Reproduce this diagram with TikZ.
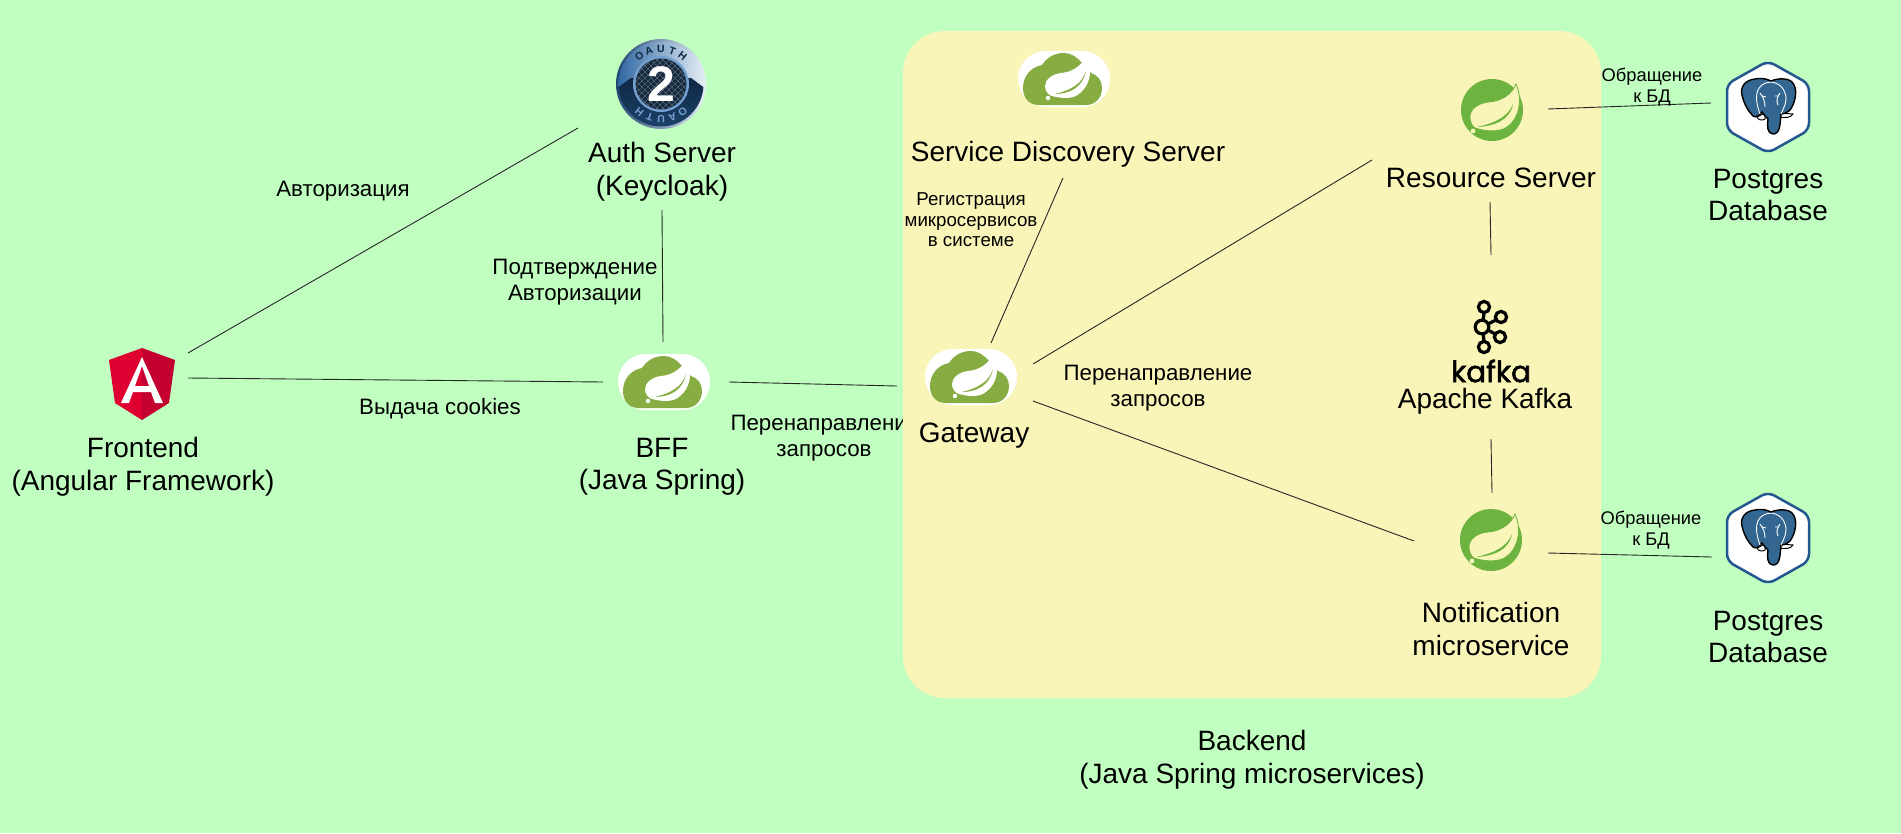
\documentclass[tikz,border=0pt]{standalone}
\usepackage{fontspec}
\setmainfont{Liberation Sans}
\newfontfamily\wordfont[FakeBold=1.8]{Poppins}
\usetikzlibrary{calc}
\definecolor{bggreen}{RGB}{193,255,193}
\definecolor{panelyellow}{RGB}{249,245,184}
\definecolor{cloudgreen}{RGB}{135,173,66}
\definecolor{leafgreen}{RGB}{109,179,63}
\definecolor{pgblue}{RGB}{51,103,145}
\definecolor{hexblue}{RGB}{35,88,143}
\definecolor{ngleft}{RGB}{221,0,49}
\definecolor{ngright}{RGB}{195,0,47}
\definecolor{oauthdark}{RGB}{15,40,68}
\definecolor{oauthmid}{RGB}{28,66,106}
\definecolor{oauthedge}{RGB}{45,100,160}
\definecolor{oauthpale}{RGB}{232,240,248}
\definecolor{oauthcore}{RGB}{24,42,62}
\definecolor{oauthring}{RGB}{115,160,208}
\definecolor{oauthhatch}{RGB}{125,145,165}
\def\drawlink{\draw[color=black!85, line width=0.9pt]}
\def\biglabel{\node[align=center, font=\fontsize{28}{32.5}\selectfont]}
\def\midlabel{\node[align=center, font=\fontsize{22.3}{26.5}\selectfont]}
\def\smalllabel{\node[align=center, font=\fontsize{18.7}{20.5}\selectfont]}
\def\dblabel{\node[align=center, font=\fontsize{18.3}{21.5}\selectfont]}
\tikzset{
  pics/springcloud/.style={code={
    \fill[white, rounded corners=28] (-46,-28) rectangle (46,28);
    \fill[cloudgreen] (-25,26) .. controls (-36,26) and (-41,18) .. (-41,9)
      .. controls (-41,-3) and (-33,-12) .. (-22,-14)
      .. controls (-16,-23) and (-8,-26) .. (0,-26)
      .. controls (7,-26) and (13,-22) .. (18,-16) -- (27,-6)
      .. controls (34,-4) and (38,2) .. (38,9)
      .. controls (38,19) and (31,26) .. (22,26) -- cycle;
    \fill[white] (23,-23) .. controls (16,-12) and (8,-7) .. (-3,-6)
      .. controls (-12,-5) and (-19,1) .. (-19,7)
      .. controls (-19,12) and (-16,16) .. (-12,17)
      .. controls (0,20) and (10,20) .. (16,14)
      .. controls (26,6) and (29,-8) .. cycle;
    \fill[cloudgreen] (22,-8) .. controls (18,5) and (7,11) .. (-9,15)
      .. controls (6,15) and (19,8) .. (22,-8);
    \fill[white] (-16,19) circle (2.2);
  }},
  pics/springleaf/.style={code={
    \fill[leafgreen] (0,0) circle (31);
    \filldraw[fill=panelyellow, draw=leafgreen, line width=0.8pt] (24,-26) .. controls (20,-16) and (10,-9) .. (-3,-8)
      .. controls (-14,-7) and (-22,-1) .. (-22,7)
      .. controls (-22,12) and (-20,16) .. (-17,18)
      .. controls (-5,22) and (8,22) .. (15,17)
      .. controls (27,9) and (31,-10) .. cycle;
    \fill[leafgreen] (21,-6) .. controls (16,7) and (3,13) .. (-15,17)
      .. controls (3,16) and (18,10) .. (21,-6);
    \fill[panelyellow] (-19,21) circle (2.4);
  }},
  pics/angularlogo/.style={code={
    \fill[ngleft] (0,-36) -- (-33,-24) -- (-27,19) -- (0,36) -- cycle;
    \fill[ngright] (0,-36) -- (33,-24) -- (27,19) -- (0,36) -- cycle;
    \fill[white, even odd rule] (0,-27) -- (-21,19) -- (-13,19) -- (-9,8) -- (9,8) -- (13,19) -- (21,19) -- cycle
      (0,-18) -- (-7,2) -- (7,2) -- cycle;
  }},
  pics/oauthlogo/.style={code={
    \shade[left color=oauthedge!70!black, right color=oauthpale] (0,0) circle (45);
    \begin{scope}
      \clip (0,0) circle (42.5);
      \shade[left color=oauthedge, right color=oauthpale] (-45,-45) rectangle (45,8);
      \shade[top color=oauthdark, bottom color=oauthmid] (-45,5) -- (-30,-6) -- (30,-6) -- (45,5) -- (45,44) -- (-45,44) -- cycle;
    \end{scope}
    \fill[oauthring] (0,0) circle (28);
    \fill[oauthcore] (0,0) circle (25.5);
    \begin{scope}
      \clip (0,0) circle (25.5);
      \foreach \h in {-40,-34,...,40} {
        \draw[oauthhatch, line width=0.3pt] (\h-30,-30) -- (\h+30,30);
        \draw[oauthhatch, line width=0.3pt] (\h-30,30) -- (\h+30,-30);
      }
    \end{scope}
    \foreach \l/\a in {O/128,A/110,U/90,T/71,H/52} {
      \node[font=\bfseries\fontsize{10.5}{10.5}\selectfont, text=oauthdark, inner sep=0pt, rotate=\a-90] (top\l) at (-\a:35) {\l};
    }
    \foreach \l/\a in {O/308,A/289,U/270,T/251,H/232} {
      \node[font=\bfseries\fontsize{10.5}{10.5}\selectfont, text=oauthring, inner sep=0pt, rotate=\a-90] (bot\l) at (-\a:35) {\l};
    }
    \node[font=\bfseries\fontsize{50}{50}\selectfont, text=white, inner sep=0pt] (two) at (0,0) {2};
  }},
  pics/kafkalogo/.style={code={
    \draw[line width=3.2pt] (2,-14) -- (1,-6) (2,14) -- (1,6) (14,-7) -- (6,-3) (13,7) -- (6,3);
    \draw[line width=3.2pt] (0,0) circle (6.8);
    \draw[line width=3.2pt] (2,-20) circle (5.6);
    \draw[line width=3.2pt] (2,20) circle (5.6);
    \draw[line width=3.2pt] (19,-10) circle (5.6);
    \draw[line width=3.2pt] (18,10) circle (5.6);
  }},
  pics/postgreslogo/.style={code={
    \filldraw[fill=white, draw=hexblue, line width=2.5pt, rounded corners=7] (0,-46) -- (41,-23) -- (41,23) -- (0,46) -- (-41,23) -- (-41,-23) -- cycle;
    % tusks under the ears
    \filldraw[fill=white, draw=black, line width=1pt] (-11,10) -- (-3,6) -- (-3,12) .. controls (-6,14) and (-10,13) .. (-11,10);
    \filldraw[fill=white, draw=black, line width=1pt] (12,6) -- (25,7) .. controls (23,11) and (16,11) .. (12,10) -- cycle;
    \filldraw[fill=pgblue, draw=black, line width=1.4pt] (3,-26) .. controls (-3,-29) and (-8,-29) .. (-13,-28)
      .. controls (-23,-27) and (-28,-20) .. (-26,-12)
      .. controls (-24,-3) and (-20,4) .. (-15,9)
      .. controls (-12,11) and (-9,9) .. (-6,5)
      .. controls (-4,8) and (-2,10) .. (0,12)
      .. controls (-1,18) and (-1,27) .. (5,27)
      .. controls (12,27) and (12,18) .. (13,7)
      .. controls (17,7) and (20,5) .. (22,3)
      .. controls (28,-5) and (30,-19) .. (24,-25)
      .. controls (20,-29) and (10,-29) .. (3,-26) -- cycle;
    \draw[white, line width=0.9pt] (-8,7) .. controls (-12,-4) and (-14,-16) .. (-6,-22)
      .. controls (2,-28) and (14,-24) .. (17,-14)
      .. controls (20,-6) and (16,0) .. (13,7);
    \draw[white, line width=0.9pt] (-8,-14) .. controls (-5,-10) and (-3,-6) .. (-3,0);
    \draw[white, line width=0.9pt] (12,-14) .. controls (9,-10) and (8,-6) .. (10,-2);
    \draw[white, line width=0.9pt] (-6,-11) -- (-2,-10) (7,-11) -- (11,-11);
  }}
}
\begin{document}
\begin{tikzpicture}[x=1pt,y=-1pt]
\useasboundingbox (0,0) rectangle (1901,833);
\fill[bggreen] (0,0) rectangle (1901,833);

% logo centres
\coordinate (auth) at (661,84);
\coordinate (front) at (142,384);
\coordinate (bff) at (664,382);
\coordinate (gateway) at (971,377);
\coordinate (discovery) at (1064,79);
\coordinate (resource) at (1492,110);
\coordinate (notify) at (1491,540);
\coordinate (kafka) at (1482,327);
\coordinate (dbtop) at (1768,107);
\coordinate (dbbot) at (1768,538);

% this one runs under the panel
\midlabel[anchor=west] (bff_gw_label) at (727,425) {Перенаправлени};

% ---------- Backend panel
\fill[panelyellow, rounded corners=42] (903,31) rectangle (1601,698);

% ---------- logos
\pic (authlogo) at (auth) {oauthlogo};
\pic (frontlogo) at (front) {angularlogo};
\pic (bfflogo) at (bff) {springcloud};
\pic (gwlogo) at (gateway) {springcloud};
\pic (disclogo) at (discovery) {springcloud};
\pic (reslogo) at (resource) {springleaf};
\pic (notlogo) at (notify) {springleaf};
\pic (kafkamark) at (kafka) {kafkalogo};
\pic (dbtoplogo) at (dbtop) {postgreslogo};
\pic (dbbotlogo) at (dbbot) {postgreslogo};
\node[font=\wordfont\fontsize{29.5}{29.5}\selectfont, inner sep=0pt] (kafkaword) at (1491,371) {kafka};

% ---------- free ends of the links
\coordinate (front_up) at ($ (front) + (46,-31) $);
\coordinate (front_right) at ($ (front) + (46,-6) $);
\coordinate (auth_left) at ($ (auth) + (-83,44) $);
\coordinate (auth_down) at ($ (auth) + (1,126) $);
\coordinate (bff_up) at ($ (bff) + (-1,-40) $);
\coordinate (bff_left) at ($ (bff) + (-61,0) $);
\coordinate (bff_right) at ($ (bff) + (65,0) $);
\coordinate (gw_left) at ($ (gateway) + (-74,9) $);
\coordinate (gw_up) at ($ (gateway) + (20,-34) $);
\coordinate (gw_upright) at ($ (gateway) + (62,-13) $);
\coordinate (gw_downright) at ($ (gateway) + (62,24) $);
\coordinate (disc_down) at ($ (discovery) + (-1,99) $);
\coordinate (res_left) at ($ (resource) + (-120,50) $);
\coordinate (res_down) at ($ (resource) + (-2,92) $);
\coordinate (res_right) at ($ (resource) + (56,-1) $);
\coordinate (kafka_up) at ($ (kafka) + (9,-72) $);
\coordinate (kafka_down) at ($ (kafka) + (9,112) $);
\coordinate (not_up) at ($ (notify) + (1,-47) $);
\coordinate (not_left) at ($ (notify) + (-77,1) $);
\coordinate (not_right) at ($ (notify) + (57,13) $);
\coordinate (dbtop_left) at ($ (dbtop) + (-57,-4) $);
\coordinate (dbbot_left) at ($ (dbbot) + (-56,19) $);

% ---------- links
\drawlink (front_up) to (auth_left);
\drawlink (front_right) to (bff_left);
\drawlink (auth_down) to (bff_up);
\drawlink (bff_right) to (gw_left);
\drawlink (gw_up) to (disc_down);
\drawlink (gw_upright) to (res_left);
\drawlink (gw_downright) to (not_left);
\drawlink (res_down) to (kafka_up);
\drawlink (kafka_down) to (not_up);
\drawlink (res_right) to (dbtop_left);
\drawlink (not_right) to (dbbot_left);

% ---------- texts
\biglabel (auth_label) at (662,172) {Auth Server\\(Keycloak)};
\biglabel (front_label) at (143,467) {Frontend\\(Angular Framework)};
\biglabel (bff_label) at (662,467) {BFF\\(Java Spring)};
\biglabel (gw_label) at (974,436) {Gateway};
\biglabel (disc_label) at (1068,154) {Service Discovery Server};
\biglabel (res_label) at (1491,178) {Resource Server};
\biglabel (kafka_label) at (1485,401) {Apache Kafka};
\biglabel (not_label) at (1491,629) {Notification\\microservice};
\biglabel (dbtop_label) at (1768,195) {Postgres\\Database};
\biglabel (dbbot_label) at (1768,637) {Postgres\\Database};
\biglabel (back_label) at (1252,760) {Backend\\(Java Spring microservices)};
\midlabel (authz_label) at (343,191) {Авторизация};
\midlabel (confirm_label) at (575,282) {Подтверждение\\Авторизации};
\midlabel (cookie_label) at (440,409) {Выдача cookies};
\midlabel (bff_gw_label2) at (824,453) {запросов};
\midlabel (gw_back_label) at (1158,388) {Перенаправление\\запросов};
\smalllabel (reg_label) at (971,220) {Регистрация\\микросервисов\\в системе};
\dblabel (dbtop_req) at (1652,87) {Обращение\\к БД};
\dblabel (dbbot_req) at (1651,530) {Обращение\\к БД};
\end{tikzpicture}
\end{document}
